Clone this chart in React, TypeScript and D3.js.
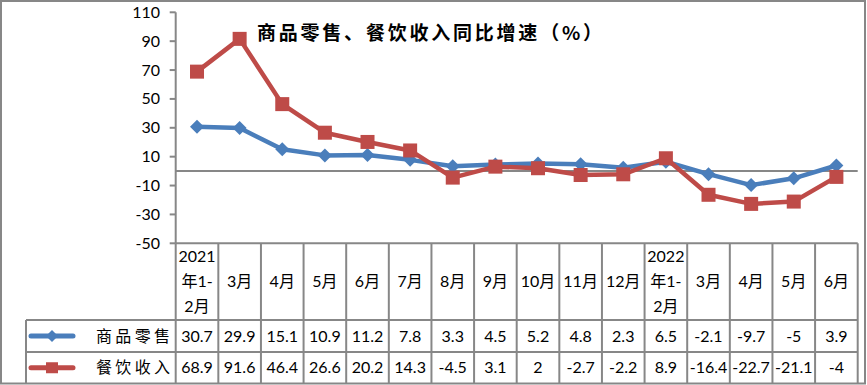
import React from 'react';
import * as d3 from 'd3';

// categories, wrapped into lines as in the header row
const categories = [
  ['2021', '年1-', '2月'], ['3月'], ['4月'], ['5月'], ['6月'], ['7月'], ['8月'], ['9月'],
  ['10月'], ['11月'], ['12月'], ['2022', '年1-', '2月'], ['3月'], ['4月'], ['5月'], ['6月'],
];
const retailValues = [30.7, 29.9, 15.1, 10.9, 11.2, 7.8, 3.3, 4.5, 5.2, 4.8, 2.3, 6.5, -2.1, -9.7, -5, 3.9];
const cateringValues = [68.9, 91.6, 46.4, 26.6, 20.2, 14.3, -4.5, 3.1, 2, -2.7, -2.2, 8.9, -16.4, -22.7, -21.1, -4];
const retailLabels = ['30.7', '29.9', '15.1', '10.9', '11.2', '7.8', '3.3', '4.5', '5.2', '4.8', '2.3', '6.5', '-2.1', '-9.7', '-5', '3.9'];
const cateringLabels = ['68.9', '91.6', '46.4', '26.6', '20.2', '14.3', '-4.5', '3.1', '2', '-2.7', '-2.2', '8.9', '-16.4', '-22.7', '-21.1', '-4'];
const yTicks = [110, 90, 70, 50, 30, 10, -10, -30, -50];
const seriesNames = ['商品零售', '餐饮收入'];
const title = '商品零售、餐饮收入同比增速（%）';

const W = 867;
const H = 385;
const GRAY = '#878787';
const BLUE = '#4A7EBB';
const RED = '#BE4B48';
const NUM_FONT = "Lato, 'Noto Sans CJK SC', sans-serif";
const CJK_FONT = "'Noto Sans CJK SC', sans-serif";

const App = () => {
  // plot frame
  const left = 175.7;
  const right = 857.7;
  const top = 12.3;
  const bottom = 243.3;
  const row1 = 320;
  const row2 = 352;
  const tableBottom = 383.5;
  const legendLeft = 26;

  const x = d3.scaleBand<number>()
    .domain(categories.map((_, i) => i))
    .range([left, right])
    .padding(0);
  const y = d3.scaleLinear().domain([-50, 110]).range([bottom, top]);
  const cx = (i: number) => (x(i) as number) + x.bandwidth() / 2;

  const line = d3.line<number>()
    .x((_, i) => cx(i))
    .y(d => y(d));

  const diamond = (px: number, py: number, r: number) =>
    `M${px},${py - r}L${px + r},${py}L${px},${py + r}L${px - r},${py}Z`;

  const boundaries = d3.range(categories.length + 1).map(i =>
    i < categories.length ? (x(i) as number) : right);

  return (
    <>
      <style>{'body{margin:0}'}</style>
      <svg width={W} height={H} style={{ display: 'block' }}>
        <rect x={0} y={0} width={W} height={H} fill="#fff" />

        {/* title */}
        <text x={257} y={39.5} fontFamily={CJK_FONT} fontWeight="bold" fontSize={19}
          textLength={345} lengthAdjust="spacing" fill="#000">{title}</text>

        {/* y axis + ticks */}
        <line x1={left} x2={left} y1={top} y2={bottom} stroke={GRAY} strokeWidth={2} />
        {yTicks.map(t => (
          <g key={t}>
            <line x1={left - 6} x2={left} y1={y(t)} y2={y(t)} stroke={GRAY} strokeWidth={2} />
            <text x={160} y={y(t) + 5.5} textAnchor="end" fontFamily={NUM_FONT} fontSize={16} fill="#000">{t}</text>
          </g>
        ))}
        {/* zero line */}
        <line x1={left} x2={right} y1={y(0)} y2={y(0)} stroke={GRAY} strokeWidth={2} />

        {/* data table grid */}
        <line x1={left} x2={right} y1={bottom} y2={bottom} stroke={GRAY} strokeWidth={2} />
        <line x1={legendLeft} x2={right} y1={row1} y2={row1} stroke={GRAY} strokeWidth={2} />
        <line x1={legendLeft} x2={right} y1={row2} y2={row2} stroke={GRAY} strokeWidth={2} />
        <line x1={legendLeft} x2={legendLeft} y1={row1} y2={tableBottom} stroke={GRAY} strokeWidth={2} />
        {boundaries.map((bx, i) => (
          <line key={i} x1={bx} x2={bx} y1={bottom} y2={tableBottom} stroke={GRAY} strokeWidth={2} />
        ))}

        {/* header labels */}
        {categories.map((lines, i) => {
          const mid = (bottom + row1) / 2;
          const lh = 24.7;
          return (
            <text key={i} textAnchor="middle" fontFamily={NUM_FONT} fontSize={16} fill="#000">
              {lines.map((s, j) => (
                <tspan key={j} x={cx(i)} y={mid + (j - (lines.length - 1) / 2) * lh + 5.5}>{s}</tspan>
              ))}
            </text>
          );
        })}

        {/* table values */}
        {retailLabels.map((s, i) => (
          <text key={'r' + i} x={cx(i)} y={(row1 + row2) / 2 + 5.5} textAnchor="middle"
            fontFamily={NUM_FONT} fontSize={16} fill="#000">{s}</text>
        ))}
        {cateringLabels.map((s, i) => (
          <text key={'c' + i} x={cx(i)} y={(row2 + tableBottom) / 2 + 5.5} textAnchor="middle"
            fontFamily={NUM_FONT} fontSize={16} fill="#000">{s}</text>
        ))}

        {/* legend keys */}
        <line x1={31} x2={73} y1={(row1 + row2) / 2} y2={(row1 + row2) / 2} stroke={BLUE} strokeWidth={5} strokeLinecap="round" />
        <path d={diamond(52, (row1 + row2) / 2, 6)} fill={BLUE} />
        <line x1={31} x2={73} y1={(row2 + tableBottom) / 2} y2={(row2 + tableBottom) / 2} stroke={RED} strokeWidth={5} strokeLinecap="round" />
        <rect x={46} y={(row2 + tableBottom) / 2 - 5.5} width={12} height={11} fill={RED} />
        <text x={96} y={(row1 + row2) / 2 + 5.5} fontFamily={CJK_FONT} fontSize={16}
          textLength={74} lengthAdjust="spacing" fill="#000">{seriesNames[0]}</text>
        <text x={96} y={(row2 + tableBottom) / 2 + 5.5} fontFamily={CJK_FONT} fontSize={16}
          textLength={74} lengthAdjust="spacing" fill="#000">{seriesNames[1]}</text>

        {/* series */}
        <path d={line(retailValues) || ''} fill="none" stroke={BLUE} strokeWidth={4.5} strokeLinejoin="round" />
        {retailValues.map((v, i) => (
          <path key={i} d={diamond(cx(i), y(v), 7)} fill={BLUE} />
        ))}
        <path d={line(cateringValues) || ''} fill="none" stroke={RED} strokeWidth={4.5} strokeLinejoin="round" />
        {cateringValues.map((v, i) => (
          <rect key={i} x={cx(i) - 7} y={y(v) - 7} width={14} height={14} fill={RED} />
        ))}

        {/* outer frame */}
        <rect x={1} y={1} width={W - 3} height={H - 2.5} fill="none" stroke={GRAY} strokeWidth={2} />
      </svg>
    </>
  );
};

export default App;
